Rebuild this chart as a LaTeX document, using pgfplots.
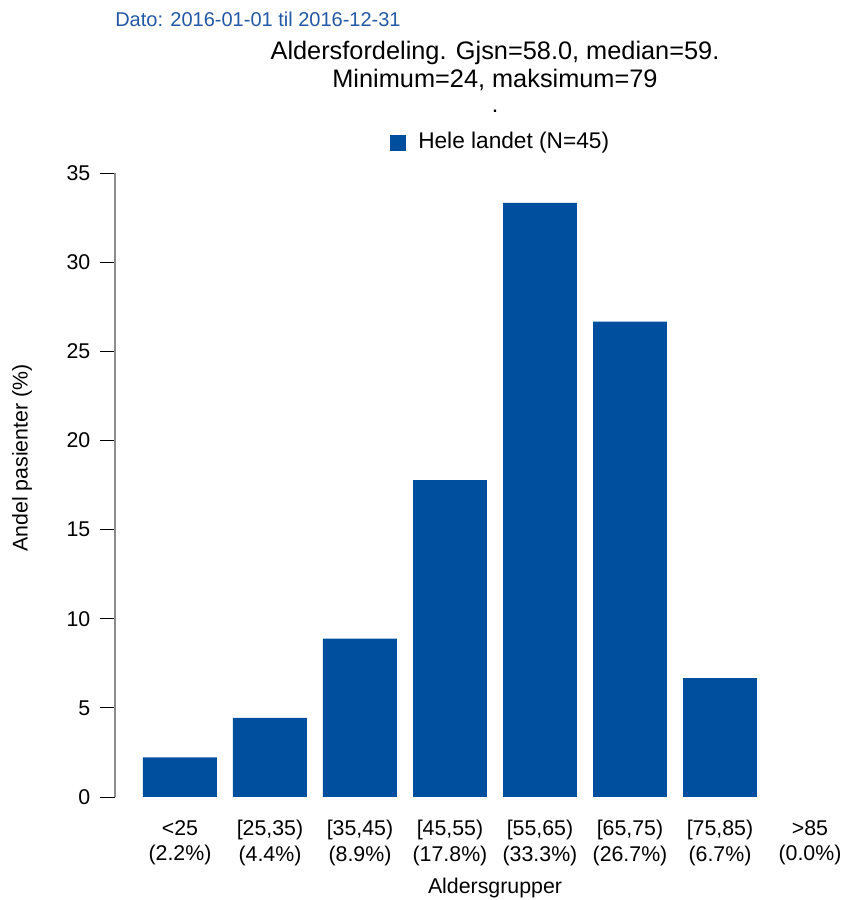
\documentclass[border=0pt]{standalone}
\usepackage{pgfplots}
\pgfplotsset{compat=1.18}
\usepackage{fontspec}
\setmainfont{Liberation Sans}
\definecolor{barblue}{RGB}{0,79,158}
\definecolor{datoblue}{RGB}{35,88,165}
\begin{document}
\begin{tikzpicture}[x=0.75pt,y=0.75pt]
\useasboundingbox (0,0) rectangle (846,900);
\coordinate (A) at (115,103);
\begin{axis}[
  at={(A)}, anchor=south west,
  scale only axis, width=548.25pt, height=468pt,
  xmin=-0.722, xmax=7.4, ymin=0, ymax=35,
  axis y line*=left, axis x line*=bottom,
  x axis line style={draw=none},
  y axis line style={draw=gray!90, line width=0.8pt, -},
  ytick={0,5,...,35},
  tick align=outside,
  major tick length=11pt,
  ytick style={black, line width=0.6pt},
  xtick style={draw=none},
  xtick={0,...,7},
  xticklabels={{<25\\(2.2\%)},{[25,35)\\(4.4\%)},{[35,45)\\(8.9\%)},{[45,55)\\(17.8\%)},{[55,65)\\(33.3\%)},{[65,75)\\(26.7\%)},{[75,85)\\(6.7\%)},{>85\\(0.0\%)}},
  xticklabel style={align=center, font=\fontsize{16}{19}\selectfont, yshift=-3pt},
  yticklabel style={font=\fontsize{16}{19}\selectfont, xshift=-4pt},
  /pgf/number format/assume math mode=true,
  clip=false,
]
\addplot[ybar, bar width=0.822, fill=barblue, draw=none, restrict y to domain=0.01:40] coordinates {
(0,2.22) (1,4.44) (2,8.89) (3,17.78) (4,33.33) (5,26.67) (6,6.67) (7,0)};
\end{axis}
\node[anchor=base west, text=datoblue, font=\fontsize{15}{18}\selectfont, inner sep=0] at (115,873) {Dato: 2016{-}01{-}01 til 2016{-}12{-}31};
\node[align=center, font=\fontsize{19}{21}\selectfont] at (495,834) {Aldersfordeling. Gjsn=58.0, median=59.\\Minimum=24, maksimum=79};
\node[font=\fontsize{17.5}{21}\selectfont] at (495,789) {.};
\fill[barblue] (390,749) rectangle (406,765);
\node[anchor=west, font=\fontsize{17}{20}\selectfont, inner sep=0] at (418,757) {Hele landet (N=45)};
\node[rotate=90, font=\fontsize{16}{19}\selectfont] at (22,442) {Andel pasienter (\%)};
\node[font=\fontsize{16}{19}\selectfont] at (495,12) {Aldersgrupper};
\end{tikzpicture}
\end{document}
